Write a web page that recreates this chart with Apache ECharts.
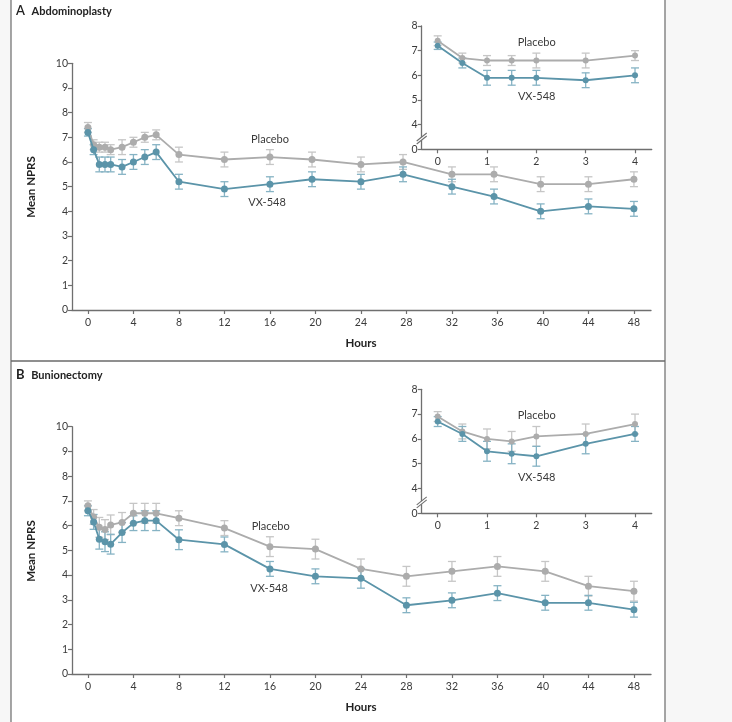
<!DOCTYPE html>
<html>
<head>
<meta charset="utf-8">
<script src="https://cdn.jsdelivr.net/npm/echarts@6/dist/echarts.min.js"></script>
<style>
html,body{margin:0;padding:0;background:#f7f7f7;}
#c{width:732px;height:722px;}
</style>
</head>
<body>
<div id="c"></div>
<script>
// ---------- data ----------
const hourTicks = [0,4,8,12,16,20,24,28,32,36,40,44,48];
const insetHourTicks = [0,1,2,3,4];
const mainYTicks = [0,1,2,3,4,5,6,7,8,9,10];
const insetYTicks = [3,4,5,6,7,8];       // 3 is shown as "0" (broken axis)
const insetYLabels = ['0','4','5','6','7','8'];

// Panel A – Abdominoplasty
const hoursA = [0,0.5,1,1.5,2,3,4,5,6,8,12,16,19.7,24,27.7,32,35.7,39.8,44,48];
const placeboA    = [7.4,6.7,6.6,6.6,6.5,6.6,6.8,7.0,7.1,6.3,6.1,6.2,6.1,5.9,6.0,5.5,5.5,5.1,5.1,5.3];
const placeboAErr = [0.2,0.2,0.2,0.2,0.2,0.3,0.2,0.2,0.2,0.3,0.3,0.3,0.3,0.3,0.3,0.3,0.3,0.3,0.3,0.3];
const vxA         = [7.2,6.5,5.9,5.9,5.9,5.8,6.0,6.2,6.4,5.2,4.9,5.1,5.3,5.2,5.5,5.0,4.6,4.0,4.2,4.1];
const vxAErr      = [0.15,0.2,0.3,0.3,0.3,0.3,0.3,0.3,0.3,0.3,0.3,0.3,0.3,0.3,0.3,0.3,0.3,0.3,0.3,0.3];

const insetHours = [0,0.5,1,1.5,2,3,4];
const insetPlaceboA    = [7.4,6.7,6.6,6.6,6.6,6.6,6.8];
const insetPlaceboAErr = [0.2,0.2,0.2,0.2,0.3,0.3,0.2];
const insetVxA         = [7.2,6.5,5.9,5.9,5.9,5.8,6.0];
const insetVxAErr      = [0.15,0.2,0.3,0.3,0.3,0.3,0.3];

// Panel B – Bunionectomy
const hoursB = [0,0.5,1,1.5,2,3,4,5,6,8,12,16,20,24,28,32,36,40.2,44,48];
const placeboB    = [6.8,6.35,5.93,5.84,6.03,6.13,6.5,6.5,6.5,6.3,5.9,5.15,5.05,4.25,3.95,4.15,4.35,4.15,3.55,3.35];
const placeboBErr = [0.2,0.3,0.4,0.4,0.4,0.4,0.4,0.4,0.4,0.3,0.3,0.4,0.4,0.4,0.4,0.4,0.4,0.4,0.4,0.4];
const vxB         = [6.6,6.15,5.45,5.35,5.25,5.72,6.1,6.2,6.2,5.43,5.24,4.25,3.95,3.87,2.78,2.98,3.27,2.88,2.88,2.6];
const vxBErr      = [0.2,0.3,0.4,0.4,0.4,0.4,0.3,0.4,0.4,0.4,0.3,0.3,0.3,0.4,0.3,0.3,0.3,0.3,0.3,0.3];

const insetPlaceboB    = [6.9,6.3,6.0,5.9,6.1,6.2,6.6];
const insetPlaceboBErr = [0.2,0.3,0.4,0.4,0.4,0.4,0.4];
const insetVxB         = [6.7,6.2,5.5,5.4,5.3,5.8,6.2];
const insetVxBErr      = [0.2,0.3,0.4,0.4,0.4,0.4,0.3];

// ---------- style ----------
const FONT = 'Lato';
const AXIS_COLOR = '#6f6f6f';
const TEXT_COLOR = '#3a3a3a';
const PLACEBO = '#acacac', PLACEBO_ERR = '#c6c6c6';
const VX = '#5b94a9', VX_ERR = '#86b3c4';

const chart = echarts.init(document.getElementById('c'));

function xAxisDef(gridIndex, min, max, ticks) {
  return {
    type: 'value', gridIndex, min, max,
    axisLine: {show: true, onZero: false, lineStyle: {color: AXIS_COLOR, width: 1.3}},
    axisTick: {show: true, customValues: ticks, length: 4, lineStyle: {color: AXIS_COLOR, width: 1.2}},
    axisLabel: {show: true, customValues: ticks, margin: 7, color: TEXT_COLOR, fontFamily: FONT, fontSize: 10.5},
    splitLine: {show: false}
  };
}
function yAxisDef(gridIndex, min, max, ticks, labels) {
  return {
    type: 'value', gridIndex, min, max,
    axisLine: {show: true, onZero: false, lineStyle: {color: AXIS_COLOR, width: 1.3}},
    axisTick: {show: true, customValues: ticks, length: 4, lineStyle: {color: AXIS_COLOR, width: 1.2}},
    axisLabel: {show: true, customValues: ticks, margin: 4, color: TEXT_COLOR, fontFamily: FONT, fontSize: 10.5,
      formatter: labels ? (v) => labels[ticks.indexOf(v)] : undefined},
    splitLine: {show: false}
  };
}
function errSeries(axisIdx, hours, vals, errs, color) {
  return {
    type: 'custom', xAxisIndex: axisIdx, yAxisIndex: axisIdx, z: 2, silent: true,
    data: hours.map((h, i) => [h, vals[i] - errs[i], vals[i] + errs[i]]),
    encode: {x: 0, y: [1, 2]},
    renderItem: function (params, api) {
      const lo = api.coord([api.value(0), api.value(1)]);
      const hi = api.coord([api.value(0), api.value(2)]);
      const w = 4;
      const st = {stroke: color, lineWidth: 1.3, fill: null};
      return {type: 'group', children: [
        {type: 'line', shape: {x1: lo[0], y1: lo[1], x2: hi[0], y2: hi[1]}, style: st},
        {type: 'line', shape: {x1: lo[0] - w, y1: lo[1], x2: lo[0] + w, y2: lo[1]}, style: st},
        {type: 'line', shape: {x1: hi[0] - w, y1: hi[1], x2: hi[0] + w, y2: hi[1]}, style: st}
      ]};
    }
  };
}
function lineSeries(axisIdx, hours, vals, color, z, size) {
  return {
    type: 'line', xAxisIndex: axisIdx, yAxisIndex: axisIdx, z, silent: true,
    data: hours.map((h, i) => [h, vals[i]]),
    symbol: 'circle', symbolSize: size, showSymbol: true,
    lineStyle: {color, width: 1.8}, itemStyle: {color},
    animation: false
  };
}

const mainXMin = -1.4, mainXMax = 49.5;
const insetXMin = -0.324, insetXMax = 4.338;

const option = {
  animation: false,
  backgroundColor: 'transparent',
  grid: [
    {left: 72, top: 63.3, width: 579, height: 246.7},   // A main
    {left: 421.7, top: 26, width: 230, height: 123.3},  // A inset
    {left: 72, top: 426.7, width: 579, height: 247.3},  // B main
    {left: 421.7, top: 389.3, width: 230, height: 124}  // B inset
  ],
  xAxis: [
    xAxisDef(0, mainXMin, mainXMax, hourTicks),
    xAxisDef(1, insetXMin, insetXMax, insetHourTicks),
    xAxisDef(2, mainXMin, mainXMax, hourTicks),
    xAxisDef(3, insetXMin, insetXMax, insetHourTicks)
  ],
  yAxis: [
    yAxisDef(0, 0, 10, mainYTicks),
    yAxisDef(1, 3, 8, insetYTicks, insetYLabels),
    yAxisDef(2, 0, 10, mainYTicks),
    yAxisDef(3, 3, 8, insetYTicks, insetYLabels)
  ],
  series: [
    errSeries(0, hoursA, placeboA, placeboAErr, PLACEBO_ERR),
    lineSeries(0, hoursA, placeboA, PLACEBO, 3, 7),
    errSeries(0, hoursA, vxA, vxAErr, VX_ERR),
    lineSeries(0, hoursA, vxA, VX, 5, 7),

    errSeries(1, insetHours, insetPlaceboA, insetPlaceboAErr, PLACEBO_ERR),
    lineSeries(1, insetHours, insetPlaceboA, PLACEBO, 3, 6),
    errSeries(1, insetHours, insetVxA, insetVxAErr, VX_ERR),
    lineSeries(1, insetHours, insetVxA, VX, 5, 6),

    errSeries(2, hoursB, placeboB, placeboBErr, PLACEBO_ERR),
    lineSeries(2, hoursB, placeboB, PLACEBO, 3, 7),
    errSeries(2, hoursB, vxB, vxBErr, VX_ERR),
    lineSeries(2, hoursB, vxB, VX, 5, 7),

    errSeries(3, insetHours, insetPlaceboB, insetPlaceboBErr, PLACEBO_ERR),
    lineSeries(3, insetHours, insetPlaceboB, PLACEBO, 3, 6),
    errSeries(3, insetHours, insetVxB, insetVxBErr, VX_ERR),
    lineSeries(3, insetHours, insetVxB, VX, 5, 6)
  ]
};
chart.setOption(option);

// ---------- decorations / text ----------
function txt(x, y, text, opts) {
  return Object.assign({type: 'text', x, y, silent: true, style: Object.assign({
    text, fill: TEXT_COLOR, font: '11px ' + FONT, align: 'center', verticalAlign: 'middle'
  }, opts || {})});
}
const g = [];
// panel frame
g.push({type: 'rect', shape: {x: 11, y: 0, width: 654, height: 722}, style: {fill: '#fff'}, z: -10, silent: true});
g.push({type: 'line', shape: {x1: 11, y1: 0, x2: 11, y2: 722}, style: {stroke: '#6a6a6a', lineWidth: 1.2}, silent: true});
g.push({type: 'line', shape: {x1: 665, y1: 0, x2: 665, y2: 722}, style: {stroke: '#6a6a6a', lineWidth: 1.2}, silent: true});
g.push({type: 'line', shape: {x1: 11, y1: 361, x2: 665, y2: 361}, style: {stroke: '#6a6a6a', lineWidth: 1.4}, silent: true});

// panel titles
g.push({type: 'text', x: 16, y: 11, silent: true, style: {
  text: '{a|A}  {b|Abdominoplasty}', verticalAlign: 'middle', align: 'left',
  rich: {a: {font: '600 13px ' + FONT, fill: '#222'}, b: {font: 'bold 11px ' + FONT, fill: '#222'}}}});
g.push({type: 'text', x: 16, y: 375, silent: true, style: {
  text: '{a|B}  {b|Bunionectomy}', verticalAlign: 'middle', align: 'left',
  rich: {a: {font: 'bold 13px ' + FONT, fill: '#222'}, b: {font: 'bold 11px ' + FONT, fill: '#222'}}}});

// axis titles
g.push(txt(31.5, 187, 'Mean NPRS', {font: 'bold 11.5px ' + FONT, fill: '#222'}));
g[g.length - 1].rotation = Math.PI / 2;
g.push(txt(31.5, 551, 'Mean NPRS', {font: 'bold 11.5px ' + FONT, fill: '#222'}));
g[g.length - 1].rotation = Math.PI / 2;
g.push(txt(361, 343, 'Hours', {font: 'bold 11.5px ' + FONT, fill: '#222'}));
g.push(txt(361, 707, 'Hours', {font: 'bold 11.5px ' + FONT, fill: '#222'}));

// series labels
g.push(txt(270, 139, 'Placebo'));
g.push(txt(267, 202, 'VX-548'));
g.push(txt(536.7, 42, 'Placebo'));
g.push(txt(536.7, 96, 'VX-548'));
g.push(txt(270.7, 526, 'Placebo'));
g.push(txt(269, 588, 'VX-548'));
g.push(txt(536.7, 415, 'Placebo'));
g.push(txt(536.7, 477, 'VX-548'));

// axis break marks on inset y axes
[1, 3].forEach(function (idx) {
  const p = chart.convertToPixel({xAxisIndex: idx, yAxisIndex: idx}, [insetXMin, 3.5]);
  const x = p[0], y = p[1];
  g.push({type: 'polygon', shape: {points: [[x - 5, y + 4], [x + 5, y - 4], [x + 5, y - 1], [x - 5, y + 7]]}, style: {fill: '#fff'}, z: 50, silent: true});
  g.push({type: 'line', shape: {x1: x - 5, y1: y + 4, x2: x + 5, y2: y - 4}, style: {stroke: AXIS_COLOR, lineWidth: 1.1}, z: 51, silent: true});
  g.push({type: 'line', shape: {x1: x - 5, y1: y + 7, x2: x + 5, y2: y - 1}, style: {stroke: AXIS_COLOR, lineWidth: 1.1}, z: 51, silent: true});
});

chart.setOption({graphic: g});
</script>
</body>
</html>
